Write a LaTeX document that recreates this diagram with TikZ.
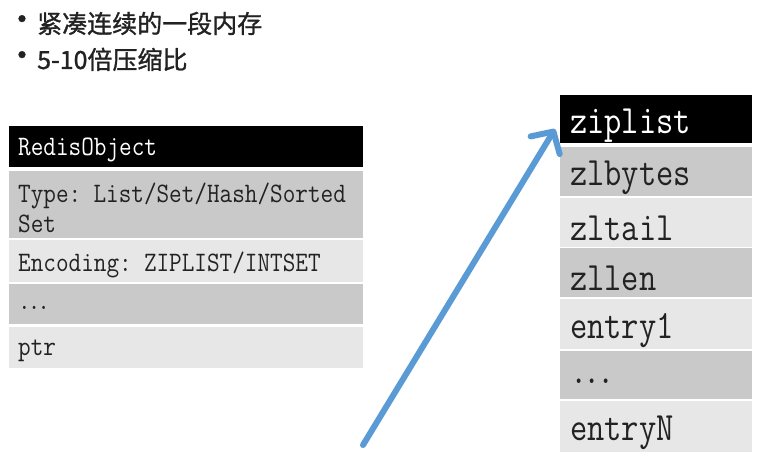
\documentclass[tikz,border=0pt]{standalone}
\usepackage{fontspec}
\usepackage{graphicx}
\newfontfamily\cjk[FakeBold=1.2]{Noto Sans CJK SC}
\usetikzlibrary{arrows.meta}
\definecolor{rowdark}{HTML}{C9C9C9}
\definecolor{rowlight}{HTML}{E7E7E7}
\definecolor{txt}{HTML}{222222}
\definecolor{arrowblue}{HTML}{5B9BD5}
\newcommand\tallL[1]{\raisebox{-3.5pt}[\height][\depth]{\scalebox{1}[1.15]{#1}}}
\newcommand\tallR[1]{\raisebox{-6pt}[\height][\depth]{\scalebox{1}[1.2]{#1}}}
\begin{document}
\begin{tikzpicture}[x=1pt,y=-1pt,
  lcell/.style={anchor=north west, inner xsep=9pt, inner ysep=0pt, text width=336pt, align=left,
    font=\ttfamily\addfontfeatures{FakeBold=0.7}\fontsize{24.5}{30}\selectfont, text=txt},
  rcell/.style={anchor=north west, inner xsep=10pt, inner ysep=0pt, text width=172pt, align=left,
    font=\ttfamily\addfontfeatures{FakeBold=0.7}\fontsize{33.5}{36}\selectfont, text=txt},
  head/.style={fill=black, text=white},
  dark/.style={fill=rowdark},
  light/.style={fill=rowlight},
  bullettext/.style={anchor=base west, inner sep=0pt, font=\cjk\fontsize{25}{25}\selectfont, text=txt},
  bulletdot/.style={anchor=center, inner sep=0pt, font=\cjk\fontsize{32}{32}\selectfont, text=txt},
  link/.style={draw=arrowblue, line width=6pt, line cap=round,
    -{Straight Barb[length=16pt,width=34pt,line cap=round,line join=round]}}
]
\useasboundingbox (0,0) rectangle (759,454);

% bullets
\node[bulletdot] (d1) at (22,23) {•};
\node[bullettext] (t1) at (37,33) {紧凑连续的一段内存};
\node[bulletdot] (d2) at (22,59) {•};
\node[bullettext] (t2) at (37,69) {5-10倍压缩比};

% RedisObject table
\node[lcell, head, minimum height=41pt] (ro) at (9,126) {\tallL{RedisObject}};
\node[lcell, dark, minimum height=67pt] (type) at (9,171) {\tallL{Type: List/Set/Hash/Sorted}\\\tallL{Set}};
\node[lcell, light, minimum height=42pt] (enc) at (9,240) {\tallL{Encoding: ZIPLIST/INTSET}};
\node[lcell, dark, minimum height=40pt] (ldots) at (9,284) {\tallL{\mbox{.\kern-3pt.\kern-3pt.}}};
\node[lcell, light, minimum height=41pt] (ptr) at (9,327) {\tallL{ptr}};

% ziplist table
\node[rcell, head, minimum height=48pt] (zip) at (560,95) {\tallR{ziplist}};
\node[rcell, dark, minimum height=49pt] (zlbytes) at (560,147) {\tallR{zlbytes}};
\node[rcell, light, minimum height=49pt] (zltail) at (560,198) {\tallR{zltail}};
\node[rcell, dark, minimum height=49pt] (zllen) at (560,248) {\tallR{zllen}};
\node[rcell, light, minimum height=50pt] (entry1) at (560,299) {\tallR{entry1}};
\node[rcell, dark, minimum height=48pt] (rdots) at (560,351) {\tallR{\mbox{.\kern-3.5pt.\kern-3.5pt.}}};
\node[rcell, light, minimum height=51pt] (entryN) at (560,401) {\tallR{entryN}};

% arrow
\coordinate (src) at (363,445);
\coordinate (tip) at (555,129);
\draw[link] (src) -- (tip);
\end{tikzpicture}
\end{document}
